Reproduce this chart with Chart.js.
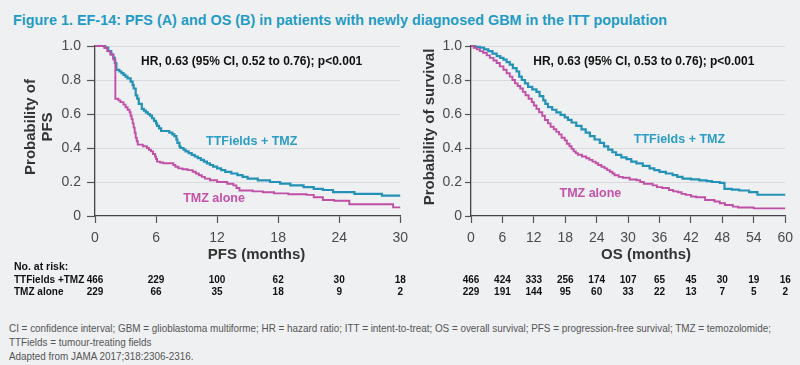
<!DOCTYPE html>
<html><head><meta charset="utf-8">
<script src="https://cdn.jsdelivr.net/npm/chart.js@4.4.1/dist/chart.umd.min.js"></script>
<style>
html,body{margin:0;padding:0;background:#eff0f2;}
#wrap{position:relative;width:800px;height:365px;overflow:hidden;background:#eff0f2;font-family:"Liberation Sans",Arial,sans-serif;}
#title{position:absolute;left:13px;top:11px;white-space:nowrap;font-weight:bold;font-size:15px;line-height:18px;color:#1f9bc5;transform-origin:0 0;}
canvas{position:absolute;top:0;}
#c1{left:0}
#c2{left:410px}
.fn{position:absolute;left:9px;white-space:nowrap;font-size:11px;line-height:14px;color:#555;transform-origin:0 0;}
</style></head><body>
<div id="wrap">
<div id="title">Figure 1. EF-14: PFS (A) and OS (B) in patients with newly diagnosed GBM in the ITT population</div>
<canvas id="c1" width="415" height="300"></canvas>
<canvas id="c2" width="390" height="300"></canvas>
<div class="fn" id="fn1" style="top:321px">CI = confidence interval; GBM = glioblastoma multiforme; HR = hazard ratio; ITT = intent-to-treat; OS = overall survival; PFS = progression-free survival; TMZ = temozolomide;</div>
<div class="fn" id="fn2" style="top:335px">TTFields = tumour-treating fields</div>
<div class="fn" id="fn3" style="top:349px">Adapted from JAMA 2017;318:2306-2316.</div>
</div>
<script>
// ---------- DATA ----------
const seriesNames = ['TTFields + TMZ', 'TMZ alone'];
const yTickValues = [0, 0.2, 0.4, 0.6, 0.8, 1.0];
const yTickLabels = ['0', '0.2', '0.4', '0.6', '0.8', '1.0'];
const pfsTickValues = [0, 6, 12, 18, 24, 30];
const osTickValues = [0, 6, 12, 18, 24, 30, 36, 42, 48, 54, 60];

// PFS (A) - TTFields + TMZ
const pfsTtfT = [0,1.0,1.3,1.6,1.8,1.95,2.1,2.4,2.6,2.8,3.0,3.2,3.5,3.7,3.8,4.0,4.15,4.3,4.6,4.8,5.0,5.2,5.4,5.6,5.8,6.0,6.1,6.3,6.5,7.3,7.6,7.8,8.0,8.1,8.3,8.4,8.7,8.9,9.2,9.5,9.8,10.1,10.4,10.7,11.0,11.3,11.6,12.0,12.4,12.8,13.4,14.0,14.5,15.0,16.0,17.2,18.2,19.2,20.5,21.5,22.4,23.4,25.5,28.2,30];
const pfsTtfS = [1.0,0.99,0.97,0.95,0.93,0.90,0.86,0.85,0.84,0.83,0.82,0.81,0.79,0.77,0.75,0.71,0.69,0.66,0.63,0.62,0.61,0.60,0.59,0.575,0.56,0.545,0.53,0.515,0.50,0.49,0.48,0.47,0.45,0.43,0.41,0.40,0.39,0.38,0.37,0.36,0.35,0.34,0.33,0.32,0.31,0.30,0.29,0.28,0.27,0.26,0.25,0.24,0.23,0.22,0.21,0.20,0.19,0.18,0.17,0.16,0.153,0.14,0.13,0.12,0.12];
// PFS (A) - TMZ alone
const pfsTmzT = [0,0.9,1.2,1.5,1.8,2.0,2.3,2.5,2.8,3.0,3.2,3.4,3.5,3.6,3.7,3.8,3.9,4.0,4.1,4.2,4.7,5.1,5.3,5.5,5.7,5.9,6.0,6.1,6.4,6.7,7.7,7.9,8.2,8.6,9.1,9.6,9.9,10.2,10.5,10.8,11.3,12.0,13.0,13.6,13.9,14.2,15.5,16.5,17.6,19.0,20.8,21.5,22.4,23.5,25.0,29.3,30];
const pfsTmzS = [1.0,0.99,0.97,0.95,0.92,0.69,0.68,0.67,0.655,0.64,0.625,0.61,0.59,0.57,0.545,0.52,0.49,0.46,0.44,0.42,0.41,0.40,0.39,0.38,0.365,0.35,0.335,0.32,0.315,0.31,0.30,0.29,0.28,0.275,0.27,0.26,0.25,0.24,0.23,0.22,0.21,0.20,0.19,0.18,0.165,0.15,0.145,0.14,0.133,0.128,0.124,0.11,0.094,0.09,0.069,0.051,0.051];

// OS (B) - TTFields + TMZ
const osTtfT = [0,0.8,1.7,2.5,3.3,4.1,4.9,5.6,6.2,6.8,7.4,8.0,8.7,9.2,9.7,10.3,10.9,11.7,12.5,13.1,13.8,14.2,14.7,15.5,16.3,17.1,17.9,18.5,19.2,20.1,21.1,21.9,22.7,23.6,24.6,25.4,26.2,27.0,27.7,28.7,29.7,30.6,31.6,32.8,34.1,35.0,36.0,37.2,38.5,39.4,40.4,42.0,43.6,45.0,46.0,47.5,48.4,49.8,51.2,53.1,54.7,60];
const osTtfS = [1.0,0.995,0.99,0.98,0.97,0.955,0.94,0.93,0.92,0.905,0.89,0.87,0.85,0.82,0.80,0.78,0.76,0.745,0.73,0.705,0.68,0.66,0.64,0.625,0.61,0.595,0.58,0.565,0.55,0.53,0.51,0.49,0.47,0.45,0.43,0.41,0.39,0.375,0.36,0.345,0.335,0.32,0.31,0.295,0.28,0.27,0.26,0.25,0.24,0.23,0.22,0.215,0.21,0.205,0.20,0.195,0.16,0.155,0.15,0.14,0.125,0.125];
// OS (B) - TMZ alone
const osTmzT = [0,0.5,1.1,1.7,2.3,3.0,3.6,4.3,4.9,5.5,6.2,6.8,7.4,7.9,8.4,8.9,9.4,9.9,10.4,11.0,11.6,12.0,12.5,13.0,13.6,14.1,14.7,15.2,15.8,16.3,16.8,17.3,17.9,18.3,18.8,19.2,19.6,20.0,20.4,21.2,22.0,22.6,23.2,23.8,24.3,24.9,25.5,26.0,26.5,27.0,27.4,28.2,29.0,30.3,31.6,32.3,33.0,34.7,35.5,36.5,37.8,38.6,39.5,40.2,41.0,42.0,43.0,44.7,46.5,47.5,48.5,50.0,51.0,54.0,60];
const osTmzS = [1.0,0.99,0.98,0.97,0.96,0.945,0.93,0.915,0.90,0.88,0.86,0.84,0.82,0.80,0.78,0.765,0.75,0.73,0.71,0.69,0.67,0.65,0.63,0.61,0.59,0.565,0.545,0.525,0.51,0.495,0.48,0.46,0.445,0.425,0.41,0.395,0.38,0.37,0.36,0.35,0.34,0.33,0.32,0.31,0.30,0.29,0.28,0.27,0.26,0.25,0.24,0.23,0.225,0.215,0.21,0.20,0.19,0.18,0.17,0.165,0.153,0.145,0.14,0.13,0.124,0.115,0.11,0.094,0.085,0.075,0.065,0.055,0.05,0.045,0.045];

// Numbers at risk
const riskRowLabels = ['TTFields +TMZ', 'TMZ alone'];
const pfsRiskTtf = [466,229,100,62,30,18];
const pfsRiskTmz = [229,66,35,18,9,2];
const osRiskTtf = [466,424,333,256,174,107,65,45,30,19,16];
const osRiskTmz = [229,191,144,95,60,33,22,13,7,5,2];

const hrPfs = 'HR, 0.63 (95% CI, 0.52 to 0.76); p<0.001';
const hrOs = 'HR, 0.63 (95% CI, 0.53 to 0.76); p<0.001';

// ---------- STYLE ----------
const BLUE = '#2491b6';
const MAG = '#c04fa6';
const BLUE_T = '#2a9cc6';
const MAG_T = '#c352a9';
const FONT = '"Liberation Sans", Arial, sans-serif';

function pts(t, s){ return t.map((v,i)=>({x:v, y:s[i]})); }

function makeChart(canvas, cfg){
  const decor = {
    id: 'decor',
    afterDraw(chart){
      const ctx = chart.ctx, xs = chart.scales.x, ys = chart.scales.y, ca = chart.chartArea;
      ctx.save();
      ctx.textAlign = 'center'; ctx.textBaseline = 'middle';
      cfg.notes.forEach(n => {
        ctx.font = n.font; ctx.fillStyle = n.color;
        ctx.fillText(n.text, xs.getPixelForValue(n.x), ys.getPixelForValue(n.y));
      });
      ctx.font = 'bold 15px ' + FONT; ctx.fillStyle = '#333';
      ctx.save();
      ctx.translate(cfg.yTitleX, (ca.top+ca.bottom)/2 - 4);
      ctx.rotate(-Math.PI/2);
      const n = cfg.yTitle.length;
      cfg.yTitle.forEach((line,i) => ctx.fillText(line, 0, (i-(n-1)/2)*17));
      ctx.restore();
      ctx.fillText(cfg.xTitle, (ca.left+ca.right)/2 + cfg.xTitleShift, 255);
      ctx.fillStyle = '#111';
      if (cfg.rowLabels){
        ctx.textAlign = 'left';
        ctx.font = 'bold 10.5px ' + FONT;
        ctx.fillText('No. at risk:', 14, 267);
        ctx.font = 'bold 10px ' + FONT;
        ctx.fillText(riskRowLabels[0], 14, 280);
        ctx.fillText(riskRowLabels[1], 14, 292);
      }
      ctx.textAlign = 'center';
      ctx.font = 'bold 10px ' + FONT;
      cfg.ticks.forEach((t,i) => {
        const x = xs.getPixelForValue(t);
        ctx.fillText(String(cfg.risk1[i]), x, 280);
        ctx.fillText(String(cfg.risk2[i]), x, 292);
      });
      ctx.restore();
    }
  };
  return new Chart(canvas, {
    type: 'line',
    data: { datasets: [
      { label: seriesNames[1], data: cfg.d2, borderColor: MAG, borderWidth: 1.9, stepped: true, pointRadius: 0, fill: false, clip: 5 },
      { label: seriesNames[0], data: cfg.d1, borderColor: BLUE, borderWidth: 2.2, stepped: true, pointRadius: 0, fill: false, clip: 5 }
    ]},
    options: {
      responsive: false, animation: false, devicePixelRatio: 1,
      layout: { padding: { top: 46, right: cfg.padRight, bottom: 0, left: 0 } },
      plugins: { legend: { display: false }, tooltip: { enabled: false } },
      scales: {
        x: {
          type: 'linear', min: 0, max: cfg.ticks[cfg.ticks.length-1],
          afterBuildTicks: s => { s.ticks = cfg.ticks.map(v => ({value: v})); },
          afterFit: s => { s.height = 84; },
          grid: { drawOnChartArea: false, drawTicks: true, tickLength: 7, tickColor: '#555', tickWidth: 1.2 },
          border: { color: '#444', width: 1.3 },
          ticks: { font: { family: FONT, size: 14 }, color: '#4a4a4a', padding: 7, maxRotation: 0, autoSkip: false,
                   callback: v => String(v) }
        },
        y: {
          min: 0, max: 1,
          afterBuildTicks: s => { s.ticks = yTickValues.map(v => ({value: v})); },
          afterFit: s => { s.width = cfg.yWidth; },
          grid: { color: ctx => ctx.tick && ctx.tick.value === 0 ? 'rgba(0,0,0,0)' : '#d8dadd', lineWidth: 1, tickLength: cfg.yTickLen, tickColor: '#555', tickWidth: 1.2 },
          border: { color: '#444', width: 1.3 },
          ticks: { font: { family: FONT, size: 14 }, color: '#4a4a4a', padding: cfg.yPad, autoSkip: false,
                   callback: v => yTickLabels[yTickValues.indexOf(v)] }
        }
      }
    },
    plugins: [decor]
  });
}

makeChart(document.getElementById('c1'), {
  d1: pts(pfsTtfT, pfsTtfS), d2: pts(pfsTmzT, pfsTmzS),
  ticks: pfsTickValues, risk1: pfsRiskTtf, risk2: pfsRiskTmz, rowLabels: true,
  yWidth: 95, padRight: 9, yTickLen: 8, yPad: 6,
  yTitle: ['Probability of', 'PFS'], yTitleX: 39.5,
  xTitle: 'PFS (months)', xTitleShift: 9,
  notes: [
    { text: hrPfs, x: 15.4, y: 0.906, font: 'bold 12px ' + FONT, color: '#111' },
    { text: seriesNames[0], x: 15.4, y: 0.44, font: 'bold 12.5px ' + FONT, color: BLUE_T },
    { text: seriesNames[1], x: 11.7, y: 0.10, font: 'bold 12.5px ' + FONT, color: MAG_T }
  ]
});

makeChart(document.getElementById('c2'), {
  d1: pts(osTtfT, osTtfS), d2: pts(osTmzT, osTmzS),
  ticks: osTickValues, risk1: osRiskTtf, risk2: osRiskTmz, rowLabels: false,
  yWidth: 61, padRight: 14, yTickLen: 6, yPad: 3,
  yTitle: ['Probability of survival'], yTitleX: 20,
  xTitle: 'OS (months)', xTitleShift: 18,
  notes: [
    { text: hrOs, x: 33, y: 0.906, font: 'bold 12px ' + FONT, color: '#111' },
    { text: seriesNames[0], x: 39.8, y: 0.447, font: 'bold 12.5px ' + FONT, color: BLUE_T },
    { text: seriesNames[1], x: 22.8, y: 0.13, font: 'bold 12.5px ' + FONT, color: MAG_T }
  ]
});

const title = document.getElementById('title');
const tw = title.getBoundingClientRect().width;
title.style.transform = 'scaleX(' + (654 / tw) + ')';
const fn1 = document.getElementById('fn1');
const fw = fn1.getBoundingClientRect().width;
const fs = 762 / fw;
['fn1','fn2','fn3'].forEach(id => document.getElementById(id).style.transform = 'scaleX(' + fs + ')');
</script>
</body></html>
